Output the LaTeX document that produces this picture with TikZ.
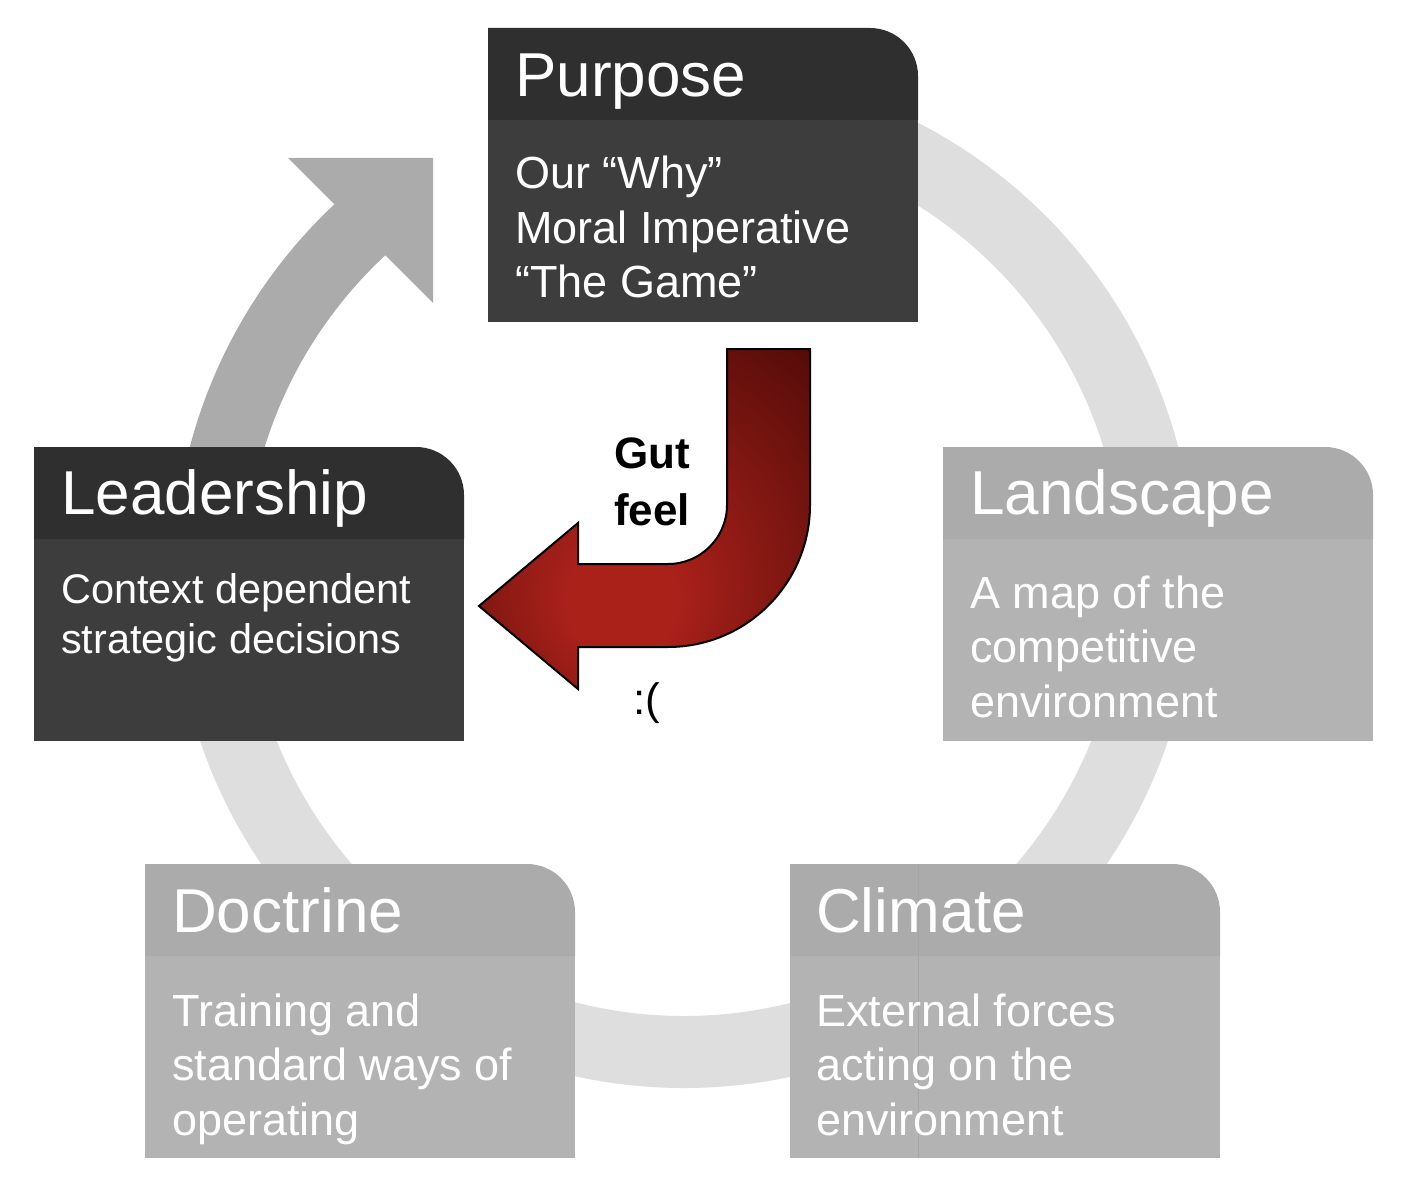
\documentclass[tikz,border=0pt]{standalone}
\usepackage{fontspec}
\setmainfont{Liberation Sans}
\definecolor{ringlight}{HTML}{DEDEDE}
\definecolor{ringdark}{HTML}{ABABAB}
\definecolor{darkhead}{HTML}{2F2F2F}
\definecolor{darkbody}{HTML}{3D3D3D}
\definecolor{lighthead}{HTML}{ABABAB}
\definecolor{lightbody}{HTML}{B3B3B3}
\definecolor{climateline}{HTML}{A4A4A4}
\definecolor{gutlight}{HTML}{AA211A}
\definecolor{gutdark}{HTML}{4E0A07}
\pgfdeclareradialshading{gutshade}{\pgfpoint{-4bp}{-14bp}}{color(0bp)=(gutlight); color(8bp)=(gutlight); color(42bp)=(gutdark); color(60bp)=(gutdark)}
\newcommand{\mycard}[4]{%
  \fill[#4] (#1,-#2-92) rectangle (#1+430,-#2-294);
  \fill[#3] (#1,-#2-92) -- (#1,-#2) -- (#1+382,-#2) arc[start angle=90,end angle=0,radius=48] -- (#1+430,-#2-92) -- cycle;
}
\tikzset{
  headtxt/.style={text=white, inner sep=0pt, anchor=base west, font=\fontsize{62}{74}\selectfont},
  bodytxt/.style={text=white, inner sep=0pt, anchor=base west, align=left, font=\fontsize{45}{54.5}\selectfont},
  smallbodytxt/.style={bodytxt, font=\fontsize{41.4}{50}\selectfont},
  ringarc/.style={line width=72pt, draw=ringlight},
  arrowarc/.style={line width=72pt, draw=ringdark},
  gutlbl/.style={inner sep=0pt, anchor=base, align=center, font=\bfseries\fontsize{44}{57}\selectfont},
  sadlbl/.style={inner sep=0pt, anchor=base, font=\fontsize{44}{50}\selectfont}
}
\begin{document}
\begin{tikzpicture}[x=1pt,y=1pt]
\useasboundingbox (0,0) rectangle (1405,-1190);
\fill[white] (0,0) rectangle (1405,-1190);
\coordinate (ctr) at (684,-577);
% cycle ring
\draw[ringarc] (ctr) ++(105:475) arc[start angle=105, end angle=-180, radius=475];
\draw[arrowarc] (ctr) ++(181:475) arc[start angle=181, end angle=132, radius=475];
\coordinate (tipA) at (433,-158);
\coordinate (barbA) at (288,-158);
\coordinate (barbB) at (433,-303);
\fill[ringdark] (barbA) -- (tipA) -- (barbB) -- cycle;
% cards
\mycard{488}{28}{darkhead}{darkbody}
\mycard{34}{447}{darkhead}{darkbody}
\mycard{943}{447}{lighthead}{lightbody}
\mycard{145}{864}{lighthead}{lightbody}
\mycard{790}{864}{lighthead}{lightbody}
\draw[climateline, line width=1pt] (918,-864) -- (918,-1158);
% texts (multi-line nodes: base = last line)
\node[headtxt] (purposeH) at (515,-97) {Purpose};
\node[bodytxt] (purposeB) at (515,-298) {Our “Why”\\Moral Imperative\\“The Game”};
\node[headtxt] (leaderH) at (61,-514) {Leadership};
\node[smallbodytxt] (leaderB) at (61,-653) {Context dependent\\strategic decisions};
\node[headtxt] (landH) at (970,-514) {Landscape};
\node[bodytxt] (landB) at (970,-717) {A map of the\\competitive\\environment};
\node[headtxt] (doctH) at (172,-932) {Doctrine};
\node[bodytxt] (doctB) at (172,-1135) {Training and\\standard ways of\\operating};
\node[headtxt] (climH) at (816,-932) {Climate};
\node[bodytxt] (climB) at (816,-1135) {External forces\\acting on the\\environment};
% gut feel arrow
\shade[shading=gutshade, draw=black, line width=2pt, line join=miter]
  (727,-349) -- (810,-349) -- (810,-505)
  arc[start angle=0, end angle=-90, radius=142]
  -- (578,-647) -- (578,-689) -- (479,-606) -- (578,-523) -- (578,-564) -- (668,-564)
  arc[start angle=-90, end angle=0, radius=59]
  -- cycle;
\node[gutlbl] (gut) at (652,-525) {Gut\\feel};
\node[sadlbl] (sad) at (647,-714) {:(};
\end{tikzpicture}
\end{document}
